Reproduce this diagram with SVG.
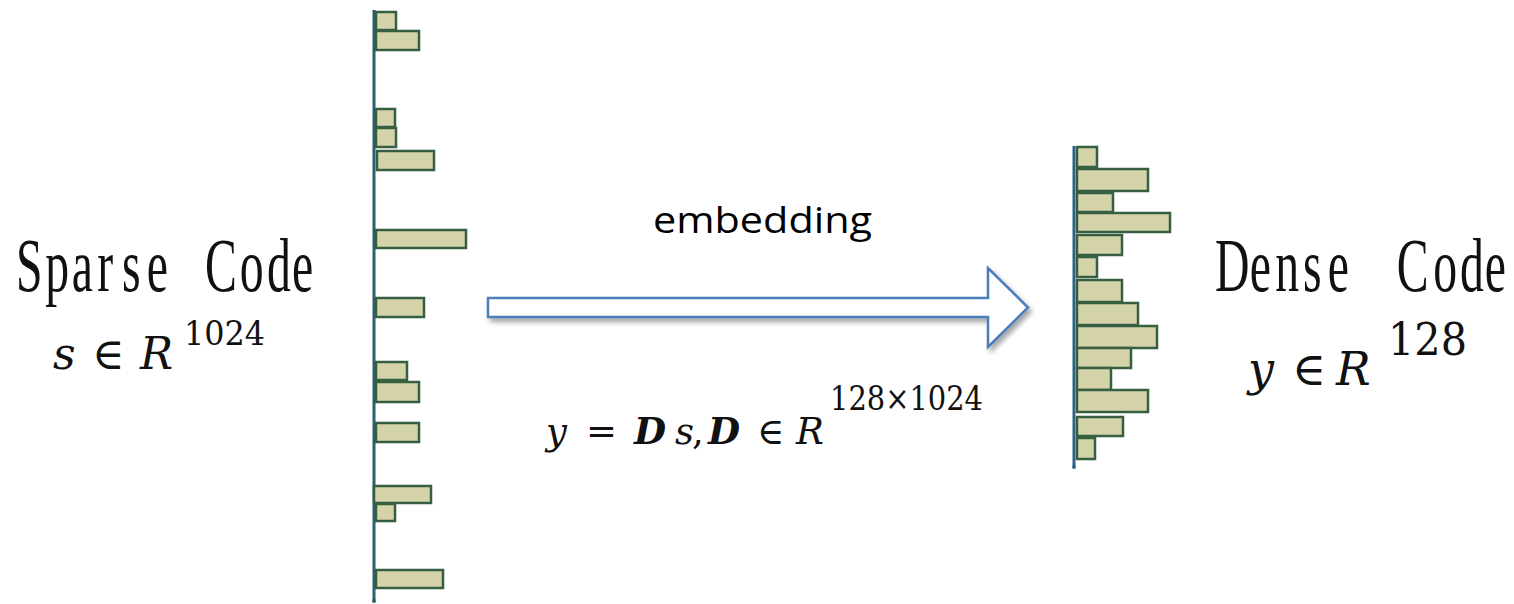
<svg xmlns="http://www.w3.org/2000/svg" width="1514" height="604" viewBox="0 0 1514 604">
  <defs>
    <filter id="shadow" x="-5%" y="-20%" width="115%" height="150%">
      <feGaussianBlur in="SourceAlpha" stdDeviation="2.5"/>
      <feOffset dx="3" dy="4" result="b"/>
      <feComponentTransfer><feFuncA type="linear" slope="0.35"/></feComponentTransfer>
      <feMerge><feMergeNode/><feMergeNode in="SourceGraphic"/></feMerge>
    </filter>
    <filter id="soft" x="-10%" y="-30%" width="120%" height="160%">
      <feGaussianBlur in="SourceGraphic" stdDeviation="0.6"/>
    </filter>
  </defs>
  <style>
    .bar { fill: #d4d3aa; stroke: #355f40; stroke-width: 2.5; }
    .axis { stroke: #2e5f6c; stroke-width: 3; fill: none; }
    .label { font-family: "Liberation Serif", "DejaVu Serif", serif; font-size: 77px; fill: #111; }
    .math { font-family: "DejaVu Serif", "Liberation Serif", serif; fill: #111; }
    .it { font-style: italic; }
    .bi { font-style: italic; font-weight: bold; }
    .emb { font-family: "Open Sans", "Liberation Sans", sans-serif; font-size: 36px; fill: #000; }
  </style>
  <rect width="1514" height="604" fill="#ffffff"/>

  <g id="sparse-chart" filter="url(#soft)">
    <line class="axis" x1="374" y1="10" x2="374" y2="600"/>
    <circle cx="374" cy="601" r="2" fill="#2e5f6c"/>
    <rect class="bar" x="376" y="12" width="20" height="18"/>
    <rect class="bar" x="376" y="31" width="43" height="19"/>
    <rect class="bar" x="376" y="109" width="19" height="18"/>
    <rect class="bar" x="376" y="128" width="20" height="19"/>
    <rect class="bar" x="377" y="151" width="57" height="19"/>
    <rect class="bar" x="376" y="230" width="90" height="18"/>
    <rect class="bar" x="376" y="298" width="48" height="19"/>
    <rect class="bar" x="376" y="362" width="31" height="18"/>
    <rect class="bar" x="376" y="382" width="43" height="20"/>
    <rect class="bar" x="376" y="423" width="43" height="19"/>
    <rect class="bar" x="374" y="486" width="57" height="17"/>
    <rect class="bar" x="376" y="504" width="19" height="17"/>
    <rect class="bar" x="376" y="570" width="67" height="18"/>
  </g>

  <g id="dense-chart" filter="url(#soft)">
    <line class="axis" x1="1074" y1="146" x2="1074" y2="466" style="stroke:#2f6487"/>
    <circle cx="1074" cy="467" r="2" fill="#2f6487"/>
    <rect class="bar" x="1077" y="147" width="20" height="20"/>
    <rect class="bar" x="1077" y="169" width="71" height="22"/>
    <rect class="bar" x="1077" y="193" width="36" height="19"/>
    <rect class="bar" x="1077" y="213" width="93" height="19"/>
    <rect class="bar" x="1077" y="235" width="45" height="20"/>
    <rect class="bar" x="1077" y="257" width="20" height="20"/>
    <rect class="bar" x="1077" y="280" width="45" height="22"/>
    <rect class="bar" x="1077" y="303" width="61" height="22"/>
    <rect class="bar" x="1077" y="326" width="80" height="22"/>
    <rect class="bar" x="1077" y="348" width="54" height="20"/>
    <rect class="bar" x="1077" y="368" width="34" height="22"/>
    <rect class="bar" x="1077" y="390" width="71" height="22"/>
    <rect class="bar" x="1077" y="417" width="46" height="19"/>
    <rect class="bar" x="1077" y="438" width="18" height="21"/>
  </g>

  <g id="sparse-label">
    <text class="label" transform="translate(16,291) scale(0.62,1)" x="0 47 90 131 171 211 250 305 361 405 445" y="0">Sparse Code</text>
    <text class="math" font-size="44"><tspan class="it" x="53" y="369">s</tspan><tspan x="92" y="369">∈</tspan><tspan class="it" x="140" y="369">R</tspan><tspan x="184" y="345" font-size="34" textLength="81" lengthAdjust="spacingAndGlyphs">1024</tspan></text>
  </g>

  <g id="dense-label">
    <text class="label" transform="translate(1215,291) scale(0.62,1)" x="0 56 97 142 182 240 293 352 395 435" y="0">Dense Code</text>
    <text class="math" font-size="46"><tspan class="it" x="1248" y="385">y</tspan><tspan x="1292" y="385">∈</tspan><tspan class="it" x="1336" y="385">R</tspan><tspan x="1388" y="355" font-size="45" textLength="79" lengthAdjust="spacingAndGlyphs">128</tspan></text>
  </g>

  <g id="connectors">
    <path d="M488,298 H988 V268 L1028,307.5 L988,347 V317 H488 Z" fill="#ffffff" stroke="#4a7ebb" stroke-width="2.5" stroke-linejoin="miter" filter="url(#shadow)"/>
    <text class="emb" x="653" y="233" textLength="219" lengthAdjust="spacingAndGlyphs">embedding</text>
    <text class="math" font-size="37"><tspan class="it" x="546" y="444">y</tspan><tspan x="586" y="444">=</tspan><tspan class="bi" x="634" y="444">D</tspan><tspan class="it" x="675" y="444">s</tspan><tspan x="692" y="444">,</tspan><tspan class="bi" x="708" y="444">D</tspan><tspan x="757" y="444">∈</tspan><tspan class="it" x="796" y="444">R</tspan><tspan x="830" y="410" font-size="34" textLength="153" lengthAdjust="spacingAndGlyphs">128×1024</tspan></text>
  </g>
</svg>
